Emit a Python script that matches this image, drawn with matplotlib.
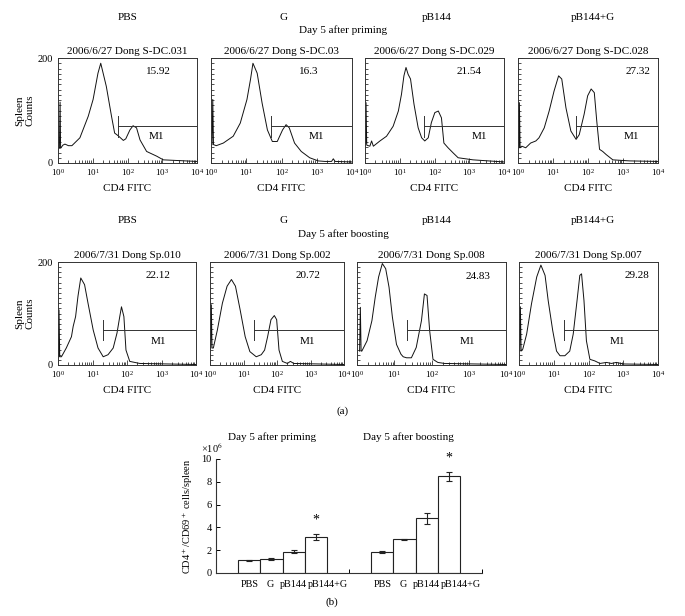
import numpy as np
import matplotlib
matplotlib.use("Agg")
import matplotlib.pyplot as plt
import matplotlib.transforms as mtransforms
from matplotlib.ticker import MultipleLocator, LogLocator, FixedLocator

plt.rcParams['font.family'] = ['Liberation Serif', 'DejaVu Serif']
plt.rcParams['mathtext.fontset'] = 'stix'

W, H = 685, 616

groups = ["PBS", "G", "pB144", "pB144+G"]

# (a) histograms, x = log10(CD4 FITC), y = counts
prime_x = [
    [0.04, 0.06, 0.075, 0.14, 0.2, 0.3, 0.4, 0.63, 0.87, 1.01, 1.15, 1.23, 1.39, 1.54, 1.63, 1.73,
     1.88, 1.95, 2.07, 2.16, 2.26, 2.36, 2.55, 2.84, 3.03, 4.0],
    [0.03, 0.05, 0.07, 0.15, 0.35, 0.63, 0.83, 1.02, 1.12, 1.19, 1.31, 1.45, 1.60, 1.74, 1.88, 2.03,
     2.13, 2.22, 2.37, 2.56, 2.80, 3.04, 3.23, 3.42, 3.47, 3.52, 4.0],
    [0.02, 0.03, 0.05, 0.14, 0.19, 0.24, 0.43, 0.62, 0.81, 0.96, 1.05, 1.12, 1.18, 1.24, 1.31, 1.41,
     1.53, 1.63, 1.72, 1.82, 1.91, 2.01, 2.11, 2.20, 2.27, 2.39, 2.54, 2.68, 3.11, 4.0],
    [0.03, 0.04, 0.06, 0.11, 0.22, 0.36, 0.51, 0.60, 0.75, 0.89, 1.03, 1.16, 1.25, 1.37, 1.51, 1.66,
     1.75, 1.89, 1.99, 2.09, 2.18, 2.25, 2.33, 2.42, 2.52, 2.71, 3.19, 4.0],
]
prime_y = [
    [28, 116, 28, 34, 36, 33, 33, 48, 89, 121, 171, 190, 146, 89, 57, 52,
     43, 46, 63, 71, 67, 44, 22, 13, 6, 3],
    [35, 121, 35, 33, 38, 51, 76, 121, 159, 190, 171, 114, 63, 41, 41, 63,
     73, 67, 38, 22, 10, 4, 3, 3, 8, 3, 2],
    [38, 115, 34, 32, 42, 32, 42, 51, 70, 99, 131, 166, 182, 169, 160, 112,
     67, 48, 42, 48, 77, 96, 99, 86, 38, 29, 19, 10, 6, 2],
    [29, 115, 29, 32, 29, 38, 42, 48, 67, 99, 137, 166, 160, 105, 61, 45,
     54, 93, 128, 141, 134, 80, 26, 22, 16, 6, 4, 3],
]
boost_x = [
    [0.02, 0.03, 0.05, 0.10, 0.24, 0.39, 0.44, 0.51, 0.58, 0.66, 0.77, 0.87, 1.02, 1.16, 1.31, 1.45,
     1.60, 1.71, 1.79, 1.84, 1.91, 1.97, 2.08, 2.37, 4.0],
    [0.02, 0.04, 0.06, 0.10, 0.22, 0.37, 0.51, 0.64, 0.76, 0.90, 1.05, 1.19, 1.38, 1.53, 1.63, 1.72,
     1.82, 1.92, 1.99, 2.06, 2.16, 2.31, 2.40, 2.50, 4.0],
    [0.07, 0.09, 0.11, 0.13, 0.27, 0.40, 0.49, 0.58, 0.68, 0.77, 0.86, 0.95, 1.06, 1.18, 1.24, 1.33,
     1.46, 1.59, 1.73, 1.81, 1.88, 1.95, 2.04, 2.17, 2.35, 4.0],
    [0.02, 0.04, 0.06, 0.11, 0.22, 0.36, 0.51, 0.63, 0.75, 0.84, 0.97, 1.08, 1.18, 1.32, 1.46, 1.56,
     1.67, 1.75, 1.80, 1.87, 1.94, 2.04, 2.18, 2.33, 2.52, 2.66, 2.80, 3.0, 4.0],
]
boost_y = [
    [16, 107, 16, 16, 33, 55, 75, 94, 134, 169, 156, 120, 68, 33, 16, 20,
     33, 62, 94, 113, 94, 29, 7, 3, 1],
    [33, 117, 33, 33, 68, 120, 153, 166, 153, 107, 55, 26, 16, 20, 29, 55,
     88, 96, 88, 29, 7, 3, 7, 3, 1],
    [27, 112, 27, 27, 47, 86, 132, 171, 197, 187, 151, 93, 40, 21, 16, 14,
     14, 34, 86, 138, 135, 67, 11, 5, 3, 1],
    [27, 113, 27, 31, 60, 119, 171, 194, 174, 125, 67, 27, 18, 18, 27, 60,
     125, 174, 177, 125, 47, 11, 8, 3, 5, 3, 5, 2, 1],
]
prime_titles = ["2006/6/27 Dong S-DC.031", "2006/6/27 Dong S-DC.03",
                "2006/6/27 Dong S-DC.029", "2006/6/27 Dong S-DC.028"]
boost_titles = ["2006/7/31 Dong Sp.010", "2006/7/31 Dong Sp.002",
                "2006/7/31 Dong Sp.008", "2006/7/31 Dong Sp.007"]
prime_pct = ["15.92", "16.3", "21.54", "27.32"]
boost_pct = ["22.12", "20.72", "24.83", "29.28"]
prime_gate = [1.73, 1.69, 1.69, 1.67]
boost_gate = [1.31, 1.31, 1.35, 1.30]

# (b) CD4+/CD69+ cells per spleen (x10^6)
prime_mean = [1.12, 1.22, 1.87, 3.18]
prime_err = [0.03, 0.10, 0.15, 0.25]
boost_mean = [1.85, 2.94, 4.80, 8.50]
boost_err = [0.10, 0.03, 0.50, 0.40]

fig = plt.figure(figsize=(W / 100, H / 100), dpi=100)


def fx(p):
    return p / W


def fy(p):
    return 1 - p / H


def hist_row(xs, ys, titles, pcts, gates, gate_y, lefts, rights, top, bottom,
             pct_pos, m1_pos):
    for i in range(4):
        ax = fig.add_axes([fx(lefts[i]), fy(bottom), (rights[i] - lefts[i]) / W, (bottom - top) / H])
        ax.plot(10 ** np.array(xs[i]), ys[i], color='#111', lw=0.7)
        g = 10 ** gates[i]
        ax.plot([g, g], [gate_y - 20, gate_y + 20], color='#333', lw=0.7)
        ax.plot([g, 1e4], [gate_y, gate_y], color='#333', lw=0.7)
        ax.set_xscale('log')
        ax.set_xlim(1, 1e4)
        ax.set_ylim(0, 200)
        ax.xaxis.set_major_locator(LogLocator(base=10, numticks=10))
        ax.xaxis.set_minor_locator(LogLocator(base=10, subs=np.arange(2, 10), numticks=10))
        ax.yaxis.set_major_locator(FixedLocator([0, 200]))
        ax.yaxis.set_minor_locator(MultipleLocator(10))
        ax.tick_params(which='both', direction='in', width=0.6, colors='#333')
        ax.tick_params(which='major', length=3.5, labelsize=6.5, pad=3)
        ax.tick_params(which='minor', length=2)
        ax.tick_params(axis='x', labelcolor='k')
        if i > 0:
            ax.set_yticklabels([])
        else:
            ax.tick_params(axis='y', labelcolor='k', pad=4, labelsize=7.5)
            ax.set_ylabel("Spleen\nCounts", fontsize=8)
            ax.yaxis.set_label_coords(-0.17, 0.5)
        for s in ax.spines.values():
            s.set_color('#333')
            s.set_linewidth(0.7)
        ax.set_title(titles[i], fontsize=8, pad=3)
        ax.set_xlabel("CD4 FITC", fontsize=8, labelpad=4)
        ax.text(pct_pos[i][0], pct_pos[i][1], pcts[i], transform=ax.transAxes,
                fontsize=8, ha='center', va='center')
        ax.text(m1_pos[i][0], m1_pos[i][1], "M1", transform=ax.transAxes,
                fontsize=8, ha='center', va='center')


hist_row(prime_x, prime_y, prime_titles, prime_pct, prime_gate, 70,
         [58, 211, 365, 518], [197, 352, 504, 658], 58, 163,
         [(0.725, 0.875), (0.69, 0.875), (0.75, 0.875), (0.86, 0.875)],
         [(0.71, 0.25), (0.745, 0.25), (0.82, 0.25), (0.81, 0.25)])
hist_row(boost_x, boost_y, boost_titles, boost_pct, boost_gate, 68,
         [58, 210, 357, 519], [196, 344, 506, 658], 262, 365,
         [(0.725, 0.865), (0.73, 0.865), (0.81, 0.86), (0.845, 0.865)],
         [(0.725, 0.23), (0.73, 0.23), (0.74, 0.23), (0.71, 0.23)])

cond_x = [128, 283, 437, 593]
for x, name in zip(cond_x, groups):
    fig.text(fx(x), fy(17), name, fontsize=8, ha='center', va='center')
    fig.text(fx(x), fy(220), name, fontsize=8, ha='center', va='center')
fig.text(fx(343), fy(30), "Day 5 after priming", fontsize=8, ha='center', va='center')
fig.text(fx(343), fy(234), "Day 5 after boosting", fontsize=8, ha='center', va='center')
fig.text(fx(343), fy(411), "(a)", fontsize=8, ha='center', va='center')

# (b) bar chart
axb = fig.add_axes([fx(216), fy(573), (482 - 216) / W, (573 - 459) / H])
pos1 = np.arange(4)
pos2 = np.arange(4) + 6
for pos, m, e in ((pos1, prime_mean, prime_err), (pos2, boost_mean, boost_err)):
    axb.bar(pos, m, width=1.0, color='white', edgecolor='#222', linewidth=0.8)
    axb.errorbar(pos, m, yerr=e, fmt='none', ecolor='#222', elinewidth=0.8,
                 capsize=2.5, capthick=0.8)
for pos, m, e in ((pos1, prime_mean, prime_err), (pos2, boost_mean, boost_err)):
    axb.annotate("*", (pos[3], m[3] + e[3]), xytext=(0, 5), textcoords='offset points',
                 ha='center', va='bottom', fontsize=10)
axb.set_xlim(-1.5, 10.5)
axb.set_ylim(0, 10)
axb.spines['top'].set_visible(False)
axb.spines['right'].set_visible(False)
for s in ('left', 'bottom'):
    axb.spines[s].set_linewidth(0.8)
    axb.spines[s].set_color('#333')
axb.set_yticks(np.arange(0, 11, 2))
axb.set_xticks(np.concatenate([pos1, pos2]))
axb.set_xticklabels(groups + groups)
axb.xaxis.set_minor_locator(FixedLocator([4.5, 10.5]))
axb.tick_params(axis='y', direction='in', length=3, width=0.7, labelsize=7.5, pad=3)
axb.tick_params(axis='x', which='major', length=0, labelsize=7.3, pad=5)
axb.tick_params(axis='x', which='minor', direction='in', length=3, width=0.7)
shift = {"pB144+G": 12, "G": -1}
for lbl in axb.get_xticklabels():
    dx = shift.get(lbl.get_text(), 0)
    if dx:
        lbl.set_transform(lbl.get_transform() +
                          mtransforms.ScaledTranslation(dx / 100, 0, fig.dpi_scale_trans))
axb.set_ylabel("CD4$^+$/CD69$^+$ cells/spleen", fontsize=7.5)
axb.yaxis.set_label_coords(-0.079, 0.5)
fig.text(fx(212), fy(448), "×10$^6$", fontsize=7.5, ha='center', va='center')
fig.text(fx(272), fy(437), "Day 5 after priming", fontsize=8, ha='center', va='center')
fig.text(fx(408), fy(437), "Day 5 after boosting", fontsize=8, ha='center', va='center')
fig.text(fx(332), fy(602), "(b)", fontsize=8, ha='center', va='center')

fig.savefig("out.png", dpi=100)
